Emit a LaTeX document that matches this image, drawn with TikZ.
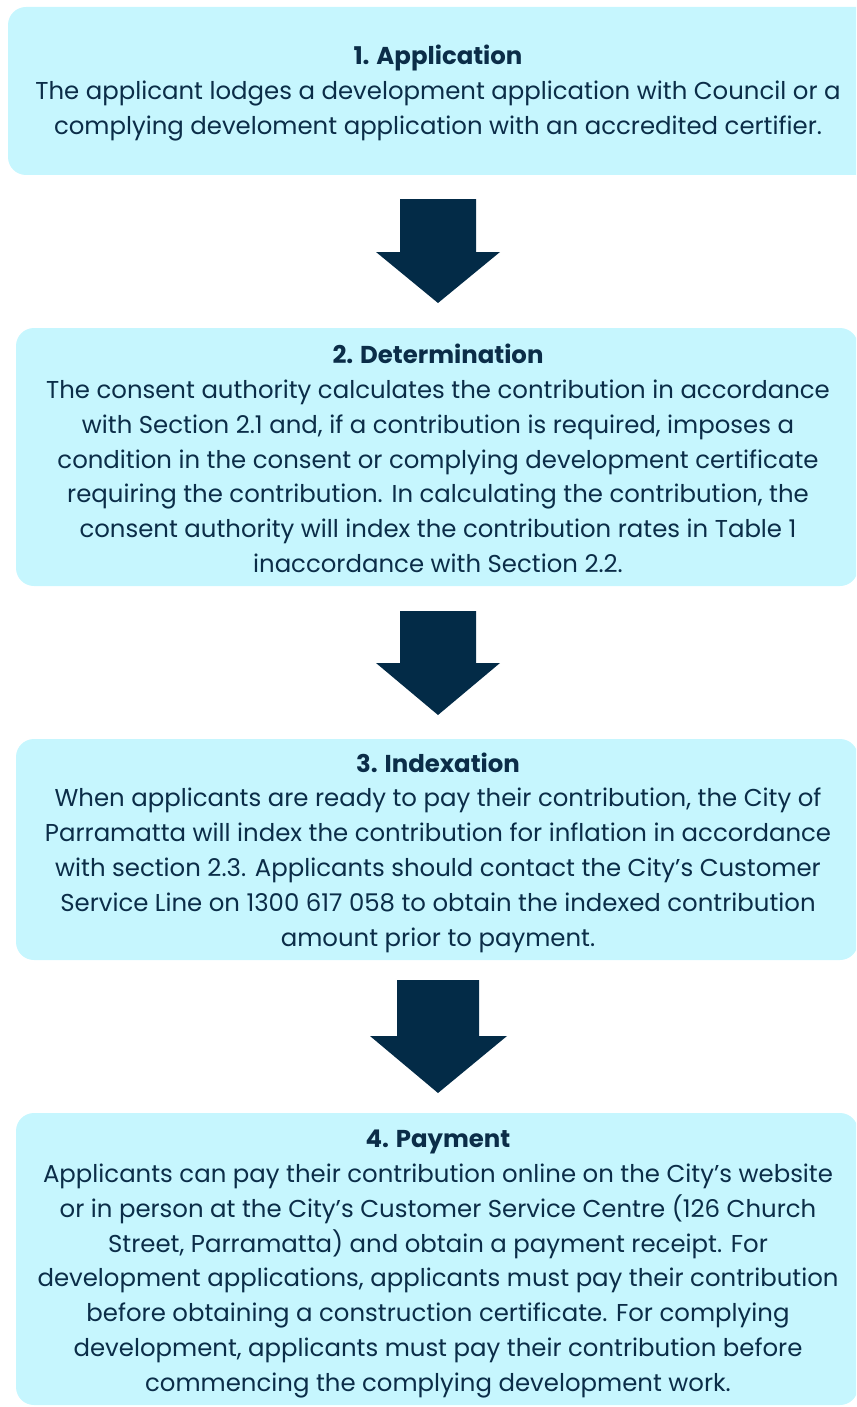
\documentclass[tikz,border=0pt]{standalone}
\usepackage{fontspec}
\setmainfont{Poppins}
\definecolor{boxfill}{HTML}{C6F6FE}
\definecolor{ink}{HTML}{0B2D48}
\definecolor{arrowc}{HTML}{032B47}
\begin{document}
\begin{tikzpicture}[x=1pt,y=-1pt,
  stepbox/.style={fill=boxfill,rounded corners=18pt},
  steptext/.style={text=ink,align=center,inner sep=0pt,font=\fontsize{24.4}{34.8}\selectfont},
  blockarrow/.style={fill=arrowc}]
\useasboundingbox (0,0) rectangle (856,1407);
\clip (0,0) rectangle (856,1407);
\fill[stepbox] (8,7) rectangle (890,175);
\fill[stepbox] (16,328) rectangle (858,586);
\fill[stepbox] (16,739) rectangle (858,960);
\fill[stepbox] (16,1113) rectangle (858,1405);

\node[steptext] (t1) at (438,93) {\textbf{1. Application}\\
The applicant lodges a development application with Council or a\\
complying develoment application with an accredited certifier.};

\node[steptext] (t2) at (438,458.5) {\textbf{2. Determination}\\
The consent authority calculates the contribution in accordance\\
with Section 2.1 and, if a contribution is required, imposes a\\
condition in the consent or complying development certificate\\
requiring the contribution. In calculating the contribution, the\\
consent authority will index the contribution rates in Table 1\\
inaccordance with Section 2.2.};

\node[steptext] (t3) at (438,852.5) {\textbf{3. Indexation}\\
When applicants are ready to pay their contribution, the City of\\
Parramatta will index the contribution for inflation in accordance\\
with section 2.3. Applicants should contact the City’s Customer\\
Service Line on 1300 617 058 to obtain the indexed contribution\\
amount prior to payment.};

\node[steptext] (t4) at (438,1264) {\textbf{4. Payment}\\
Applicants can pay their contribution online on the City’s website\\
or in person at the City’s Customer Service Centre (126 Church\\
Street, Parramatta) and obtain a payment receipt. For\\
development applications, applicants must pay their contribution\\
before obtaining a construction certificate. For complying\\
development, applicants must pay their contribution before\\
commencing the complying development work.};

\fill[blockarrow] (400,199) -- (476,199) -- (476,252) -- (500,252) -- (438,303) -- (376,252) -- (400,252) -- cycle;
\fill[blockarrow] (400,611) -- (476,611) -- (476,663) -- (500,663) -- (438,715) -- (376,663) -- (400,663) -- cycle;
\fill[blockarrow] (397,980) -- (479,980) -- (479,1036) -- (507,1036) -- (438,1093) -- (370,1036) -- (397,1036) -- cycle;
\end{tikzpicture}
\end{document}
